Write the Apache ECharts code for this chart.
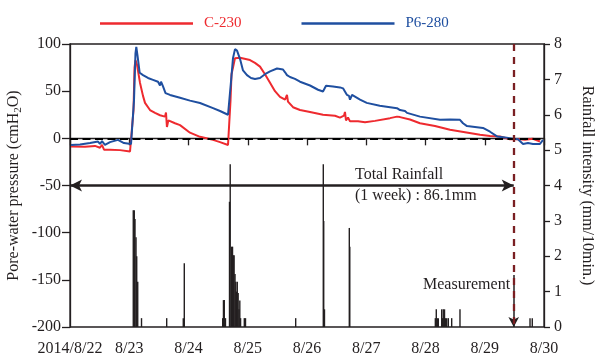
<!DOCTYPE html>
<html>
<head>
<meta charset="utf-8">
<script src="https://cdn.jsdelivr.net/npm/echarts@6/dist/echarts.min.js"></script>
<style>html,body{margin:0;padding:0;background:#fff}#c{width:595px;height:361px}</style>
</head>
<body>
<div id="c"></div>
<script>
// x in days after 2014/8/22 00:00
const xTickLabels = ['2014/8/22','8/23','8/24','8/25','8/26','8/27','8/28','8/29','8/30'];

const c230 = [
[0.017,-8.7],[0.253,-9],[0.422,-8],[0.506,-10],[0.54,-7],[0.574,-12],[0.675,-12],[0.844,-12.5],[1.013,-14],[1.046,-12],
[1.072,30],[1.089,75],[1.105,83],[1.131,78],[1.181,59],[1.232,45],[1.266,37.6],[1.35,30],[1.435,27],[1.519,24.5],
[1.603,23],[1.62,27.4],[1.636,12],[1.66,19],[1.772,16],[1.857,14],[2.025,6],[2.194,1.6],[2.414,-1.6],[2.532,-4],
[2.667,-7],[2.692,-7.5],[2.709,40],[2.726,68],[2.751,75],[2.785,85],[2.87,85.5],[3.038,83],[3.122,80],[3.207,76],
[3.291,68],[3.376,59],[3.46,50],[3.544,44],[3.63,41],[3.662,46],[3.679,39],[3.764,33],[3.882,30],[4.051,28],
[4.27,25],[4.473,24],[4.557,22],[4.624,24],[4.641,28],[4.658,19],[4.692,22],[4.726,18],[4.861,18],[4.979,17],
[5.148,18.5],[5.401,21.4],[5.519,23],[5.57,22.5],[5.738,20],[5.907,16],[6.16,13],[6.414,9],[6.667,6.5],[6.92,3.7],
[7.089,2.5],[7.257,2],[7.426,-1],[7.595,-1],[7.679,-1.6],[7.814,-0.5],[7.932,-3.4]
];

const p6280 = [
[0.017,-7],[0.169,-6.5],[0.338,-5],[0.473,-3.4],[0.506,-6],[0.54,-3],[0.59,-7],[0.675,-4],[0.81,-1.6],[0.911,-5],
[1.03,-6],[1.063,-7],[1.08,40],[1.105,90],[1.119,97],[1.139,88],[1.176,69.5],[1.232,67],[1.316,64],[1.401,62],
[1.485,60],[1.519,56],[1.536,60],[1.57,55],[1.598,57],[1.612,48],[1.688,46],[1.857,43],[2.025,40],[2.194,37.5],
[2.414,32],[2.532,29],[2.667,25],[2.692,24],[2.717,60],[2.751,85],[2.785,94.6],[2.819,93],[2.87,84],[2.92,72],
[2.987,67],[3.055,64],[3.122,63],[3.207,64],[3.291,68],[3.376,71],[3.494,74],[3.595,73],[3.63,70],[3.662,67],
[3.713,65],[3.797,63],[3.882,60],[4.051,56],[4.186,51.5],[4.27,49.6],[4.321,55.7],[4.439,55],[4.557,54],[4.608,53],
[4.641,55],[4.675,46],[4.709,45],[4.726,41],[4.76,46],[4.895,41],[5.008,37.6],[5.228,34.5],[5.519,32],[5.57,30],
[5.603,28],[5.654,29],[5.688,27],[5.907,23],[6.245,19.6],[6.414,20],[6.582,19.6],[6.633,16],[6.7,13],[6.97,11],
[7.089,7],[7.207,2],[7.342,1],[7.477,-0.5],[7.561,-1],[7.646,-6],[7.73,-5],[7.814,-6],[7.932,-6],[7.983,-1.6]
];

const rainfall = [
[1.068,3.3],[1.085,3.3],[1.097,3.05],[1.114,2.54],[1.126,2.0],[1.143,1.28],[1.207,0.25],[1.632,0.25],[1.912,0.25],[1.929,1.8],
[2.577,0.25],[2.59,0.76],[2.604,0.76],[2.624,0.25],[2.692,3.54],[2.704,4.6],[2.729,2.27],[2.743,2.27],[2.756,2.03],[2.77,2.03],
[2.785,1.5],[2.798,1.28],[2.812,1.0],[2.823,1.28],[2.838,0.96],[2.852,0.5],[2.866,0.75],[2.879,0.25],[2.942,0.25],[2.962,0.25],
[3.809,0.25],[4.275,4.6],[4.282,3.0],[4.295,0.5],[4.714,2.8],[4.722,2.27],
[6.166,0.25],[6.182,0.5],[6.199,0.25],[6.216,0.25],[6.273,0.5],[6.29,0.25],[6.3,0.5],[6.321,0.5],[6.338,0.25],[6.358,0.25],
[6.385,0.25],[6.442,0.25],[6.582,0.5],[7.764,0.25],[7.802,0.25]
];

const measurementDay = 7.489;
const measurementArrowTop = 1.47;
const totalRainfallLevel = -50;

const FONT = "'Liberation Serif','Times New Roman',serif";
const INK = '#231f20';
const RED = '#ee2a2f';
const BLUE = '#1f4fa0';

const chart = echarts.init(document.getElementById('c'), null, {renderer:'canvas'});
chart.setOption({
  animation: false,
  backgroundColor: '#fff',
  textStyle: {fontFamily: FONT, color: INK},
  grid: {left: 70, right: 51, top: 44, bottom: 34, containLabel: false, outerBoundsMode: 'none',
    show: true, borderColor: INK, borderWidth: 1.3, backgroundColor: 'transparent'},
  legend: {
    left: 95, top: 11, itemWidth: 93, itemHeight: 2.5, itemGap: 60, icon: 'rect',
    textStyle: {fontFamily: FONT, fontSize: 15, padding: [0,0,0,6]},
    data: [
      {name: 'C-230', textStyle: {color: RED}},
      {name: 'P6-280', textStyle: {color: BLUE}}
    ]
  },
  xAxis: {
    type: 'value', min: 0, max: 8, interval: 1,
    axisLine: {lineStyle: {color: INK, width: 1.3}},
    axisTick: {inside: false, length: 7, lineStyle: {color: INK, width: 1.3}},
    splitLine: {show: false},
    axisLabel: {fontFamily: FONT, fontSize: 16, color: INK, margin: 14,
      formatter: v => xTickLabels[Math.round(v)] || ''}
  },
  yAxis: [
    {
      type: 'value', min: -200, max: 100, interval: 50, position: 'left',
      name: 'Pore-water pressure (cmH{sub|2}O)', nameLocation: 'middle', nameGap: 46, nameMoveOverlap: false,
      nameTextStyle: {fontFamily: FONT, fontSize: 16, color: INK, lineHeight: 20,
        rich: {sub: {fontFamily: FONT, fontSize: 11, color: INK, lineHeight: 11, verticalAlign: 'bottom'}}},
      axisLine: {show: true, lineStyle: {color: INK, width: 1.3}},
      axisTick: {show: true, inside: false, length: 8, lineStyle: {color: INK, width: 1.3}},
      splitLine: {show: false},
      axisLabel: {fontFamily: FONT, fontSize: 16, color: INK, margin: 9}
    },
    {
      type: 'value', min: 0, max: 8, interval: 1, position: 'right',
      name: 'Rainfall intensity (mm/10min.)', nameLocation: 'middle', nameGap: 35, nameRotate: -90,
      nameTextStyle: {fontFamily: FONT, fontSize: 16, color: INK},
      axisLine: {show: true, lineStyle: {color: INK, width: 1.3}},
      axisTick: {show: true, inside: false, length: 6, lineStyle: {color: INK, width: 1.3}},
      splitLine: {show: false},
      axisLabel: {fontFamily: FONT, fontSize: 16, color: INK, margin: 10}
    }
  ],
  series: [
    {
      name: 'Rainfall', type: 'bar', yAxisIndex: 1, data: rainfall, barWidth: 1.4, barGap: '-100%',
      itemStyle: {color: INK}, z: 1,
      markLine: {
        silent: true, animation: false, label: {show: false},
        lineStyle: {color: INK, width: 1.5, type: 'solid'},
        data: [[
          {coord: [measurementDay, measurementArrowTop], symbol: 'none'},
          {coord: [measurementDay, 0], symbol: 'arrow', symbolSize: [8, 10]}
        ]]
      }
    },
    {
      name: 'C-230', type: 'line', data: c230, symbol: 'none', z: 3,
      lineStyle: {color: RED, width: 2}, itemStyle: {color: RED},
      markLine: {
        silent: true, animation: false, label: {show: false}, symbol: 'none',
        data: [
          [{coord: [0, 0], lineStyle: {color: '#000', width: 2, type: [8, 4.5]}}, {coord: [8, 0]}],
          [{coord: [0, totalRainfallLevel], symbol: 'arrow', symbolSize: [9, 12], lineStyle: {color: INK, width: 2.5, type: 'solid'}},
           {coord: [measurementDay, totalRainfallLevel], symbol: 'arrow', symbolSize: [9, 12]}],
          [{coord: [measurementDay, 100], lineStyle: {color: '#7a1f22', width: 2.3, type: [7, 6]}}, {coord: [measurementDay, -198]}]
        ]
      }
    },
    {
      name: 'P6-280', type: 'line', data: p6280, symbol: 'none', z: 4,
      lineStyle: {color: BLUE, width: 2}, itemStyle: {color: BLUE}
    }
  ],
  graphic: [
    {type: 'text', left: 355, top: 167, style: {text: 'Total Rainfall', font: "16px 'Liberation Serif','Times New Roman',serif", fill: INK}},
    {type: 'text', left: 355, top: 188, style: {text: '(1 week) : 86.1mm', font: "16px 'Liberation Serif','Times New Roman',serif", fill: INK}},
    {type: 'text', left: 423, top: 277, style: {text: 'Measurement', font: "16px 'Liberation Serif','Times New Roman',serif", fill: INK}}
  ]
});
</script>
</body>
</html>
